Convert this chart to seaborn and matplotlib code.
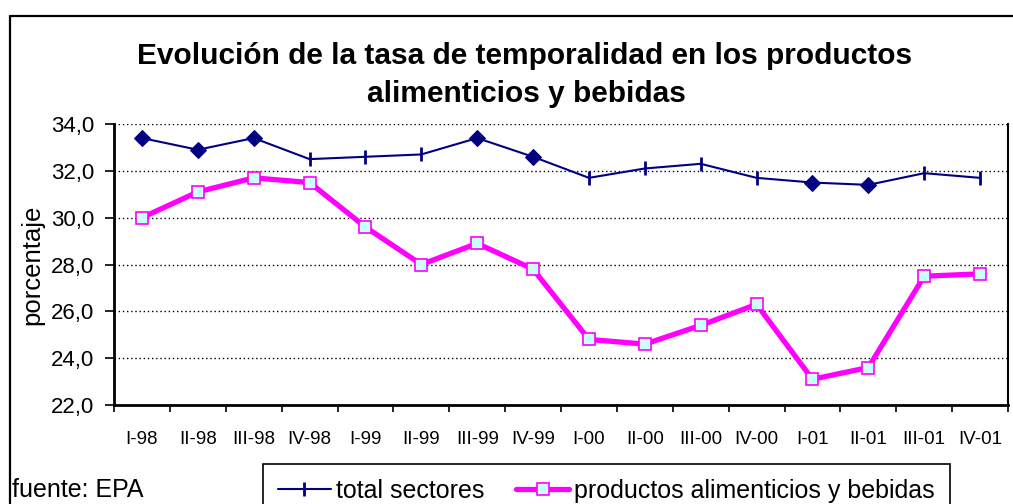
import numpy as np
import pandas as pd
import matplotlib
matplotlib.use("Agg")
import matplotlib.pyplot as plt
from matplotlib.lines import Line2D
from matplotlib.ticker import FixedLocator, FuncFormatter
import seaborn as sns

#%%
trimestres = ["I-98", "II-98", "III-98", "IV-98", "I-99", "II-99", "III-99", "IV-99",
              "I-00", "II-00", "III-00", "IV-00", "I-01", "II-01", "III-01", "IV-01"]
total_sectores = [33.4, 32.9, 33.4, 32.5, 32.6, 32.7, 33.4, 32.6,
                  31.7, 32.1, 32.3, 31.7, 31.5, 31.4, 31.9, 31.7]
alimentos = [30.0, 31.1, 31.7, 31.5, 29.6, 28.0, 28.9, 27.8,
             24.8, 24.6, 25.4, 26.3, 23.1, 23.6, 27.5, 27.6]
# puntos que en el original salen con rombo en vez de raya
rombos = [0, 1, 2, 6, 7, 12, 13]

df = pd.DataFrame({"trimestre": trimestres, "total": total_sectores, "alim": alimentos})
df["pos"] = np.arange(len(df))

#%%
sns.set_style("white")
plt.rcParams["font.family"] = ["Liberation Sans", "DejaVu Sans"]
for k in ["text.color", "axes.labelcolor", "xtick.color", "ytick.color"]:
    plt.rcParams[k] = "black"

W, H = 1013, 504
fig = plt.figure(figsize=(W / 100, H / 100), dpi=100)
ax = fig.add_axes([114 / W, 1 - 405 / H, (1008 - 114) / W, (405 - 124) / H])

navy = "#000080"
mag = "#FF00FF"

sns.lineplot(data=df, x="pos", y="total", ax=ax, color=navy, linewidth=1.5,
             marker="|", markersize=9.5, markeredgewidth=2, markeredgecolor=navy)
sns.lineplot(data=df, x="pos", y="total", ax=ax, color=navy, linestyle="",
             marker="D", markersize=8, markevery=rombos, markeredgecolor=navy)
sns.lineplot(data=df, x="pos", y="alim", ax=ax, color=mag, linewidth=3.8,
             marker="s", markersize=9, markerfacecolor="#CCFFFF",
             markeredgecolor=mag, markeredgewidth=1.2)

ax.set_xlim(-0.5, len(trimestres) - 0.5)
ax.set_ylim(22, 34)
ax.yaxis.set_major_locator(FixedLocator(np.arange(22, 34.1, 2)))
ax.yaxis.set_major_formatter(FuncFormatter(lambda v, p: "{:.1f}".format(v).replace(".", ",")))
for g in [24, 26, 28, 30, 32, 34]:
    ax.axhline(g, color="black", linestyle=(0, (1, 2)), linewidth=1, zorder=0)

ax.set_xticks(np.arange(len(trimestres)))
ax.set_xticklabels(trimestres)
ax.set_xticks(np.arange(-0.5, len(trimestres)), minor=True)
ax.tick_params(axis="x", which="major", length=0, pad=19, labelsize=13.5)
ax.tick_params(axis="x", which="minor", length=5, width=1.2, direction="out", bottom=True)
ax.tick_params(axis="y", length=6.5, width=1.2, direction="out", left=True, labelsize=16, pad=8)

ax.set_xlabel("")
ax.set_ylabel("")
ax.spines["top"].set_visible(False)
for s in ["left", "bottom"]:
    ax.spines[s].set_linewidth(2)
    ax.spines[s].set_color("black")
ax.spines["right"].set_linewidth(1.5)
ax.spines["right"].set_color("black")

fig.text(32 / W, 1 - 265 / H, "porcentaje", rotation=90, ha="center", va="center", fontsize=18.5)
fig.text(525 / W, 1 - 64 / H, "Evolución de la tasa de temporalidad en los productos",
         ha="center", va="baseline", fontsize=21.5, fontweight="bold")
fig.text(526 / W, 1 - 102 / H, "alimenticios y bebidas",
         ha="center", va="baseline", fontsize=21.5, fontweight="bold")
fig.text(12 / W, 1 - 497 / H, "fuente: EPA", ha="left", va="baseline", fontsize=18)

# marco exterior del gráfico
fig.add_artist(Line2D([10 / W, 10 / W], [0, 1 - 16 / H], color="black", linewidth=1.6,
                      transform=fig.transFigure))
fig.add_artist(Line2D([10 / W, 1], [1 - 16 / H, 1 - 16 / H], color="black", linewidth=1.6,
                      transform=fig.transFigure))

handles = [Line2D([], [], color=navy, linewidth=1.5, marker="|", markersize=9.5,
                  markeredgewidth=2),
           Line2D([], [], color=mag, linewidth=3.8, marker="s", markersize=9,
                  markerfacecolor="#CCFFFF", markeredgecolor=mag, markeredgewidth=1.2)]
leg = fig.legend(handles, ["total sectores", "productos alimenticios y bebidas"],
                 loc="upper left", bbox_to_anchor=(263 / W, 1 - 464 / H), ncol=2,
                 fontsize=18, frameon=True, fancybox=False, framealpha=1,
                 edgecolor="black", handlelength=2.1, handletextpad=0.2,
                 columnspacing=1.3, borderpad=0.6, borderaxespad=0)
leg.get_frame().set_linewidth(1.2)

fig.savefig("out.png", dpi=100, facecolor="w")
